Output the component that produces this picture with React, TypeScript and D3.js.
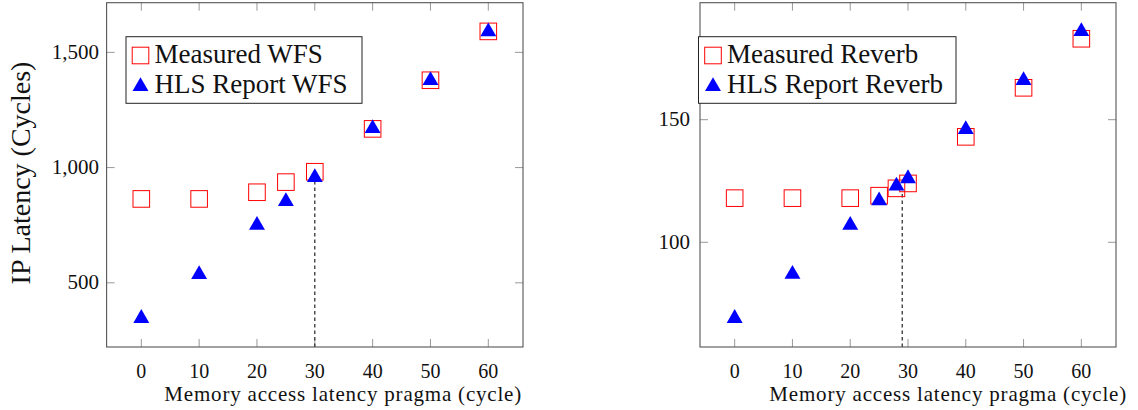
import React from 'react';
import * as d3 from 'd3';

// WFS panel
const wfsPragma = [0, 10, 20, 25, 30, 40, 50, 60];
const wfsMeasured = [864, 864, 893, 937, 982, 1168, 1379, 1591];
const wfsHls = [346, 536, 750, 853, 957, 1170, 1378, 1590];
const wfsTicks = [500, 1000, 1500];
const wfsLegend = ['Measured WFS', 'HLS Report WFS'];
const wfsGuide = { x: 30, y: 957 };

// Reverb panel
const reverbPragma = [0, 10, 20, 25, 28, 30, 40, 50, 60];
const reverbMeasured = [118, 118, 118, 119, 122, 124, 143, 163, 183];
const reverbHls = [69, 87, 107, 117, 123, 126, 146, 166, 186];
const reverbTicks = [100, 150];
const reverbLegend = ['Measured Reverb', 'HLS Report Reverb'];
const reverbGuide = { x: 29, y: 121 };

const xTicks = [0, 10, 20, 30, 40, 50, 60];
const xLabel = 'Memory access latency pragma (cycle)';
const yLabel = 'IP Latency (Cycles)';

const FONT = '"Liberation Serif", "Times New Roman", serif';
const RED = '#ff0000';
const BLUE = '#0000ff';

// pgfplots-style 10% enlargement
const enlarge = (vals: number[]): [number, number] => {
  const [lo, hi] = d3.extent(vals) as [number, number];
  const pad = (hi - lo) * 0.1;
  return [lo - pad, hi + pad];
};

const triangle = d3.symbol().type(d3.symbolTriangle).size(110)()!;
const SQ = 16.6;

type PanelProps = {
  left: number;
  right: number;
  xs: number[];
  measured: number[];
  hls: number[];
  yTicks: number[];
  fmt: (v: number) => string;
  legend: string[];
  legendLeft: number;
  legendRight: number;
  guide: { x: number; y: number };
  xLabelEnd: number;
  tickGap: number;
};

const Panel = (p: PanelProps) => {
  const top = 2.7;
  const bottom = 347;
  const x = d3.scaleLinear().domain(enlarge(p.xs)).range([p.left, p.right]);
  const y = d3
    .scaleLinear()
    .domain(enlarge([...p.measured, ...p.hls]))
    .range([bottom, top]);
  const tickLen = 8;
  const lgTop = 36.7;
  const lgBottom = 103.3;
  const lgX = p.legendLeft + 14.5;
  return (
    <g>
      {/* ticks */}
      {xTicks.map((t) => (
        <g key={'x' + t}>
          <line x1={x(t)} x2={x(t)} y1={bottom} y2={bottom - tickLen} stroke="#999" />
          <line x1={x(t)} x2={x(t)} y1={top} y2={top + tickLen} stroke="#999" />
          <text x={x(t)} y={378} textAnchor="middle" fontSize={20} fontFamily={FONT} fill="#111">
            {t}
          </text>
        </g>
      ))}
      {p.yTicks.map((t) => (
        <g key={'y' + t}>
          <line x1={p.left} x2={p.left + tickLen} y1={y(t)} y2={y(t)} stroke="#999" />
          <line x1={p.right} x2={p.right - tickLen} y1={y(t)} y2={y(t)} stroke="#999" />
          <text x={p.left - p.tickGap} y={y(t) + 6.5} textAnchor="end" fontSize={21} fontFamily={FONT} fill="#111">
            {p.fmt(t)}
          </text>
        </g>
      ))}
      {/* dashed guide */}
      <line
        x1={x(p.guide.x)}
        x2={x(p.guide.x)}
        y1={bottom}
        y2={y(p.guide.y)}
        stroke="#222"
        strokeWidth={1.2}
        strokeDasharray="3.5 3"
      />
      {/* measured squares */}
      {p.xs.map((v, i) => (
        <rect
          key={'m' + i}
          x={x(v) - SQ / 2}
          y={y(p.measured[i]) - SQ / 2}
          width={SQ}
          height={SQ}
          fill="none"
          stroke={RED}
          strokeWidth={1}
        />
      ))}
      {/* HLS triangles */}
      {p.xs.map((v, i) => (
        <path key={'h' + i} d={triangle} transform={`translate(${x(v)},${y(p.hls[i])})`} fill={BLUE} />
      ))}
      {/* frame */}
      <rect x={p.left} y={top} width={p.right - p.left} height={bottom - top} fill="none" stroke="#555" strokeWidth={1.1} />
      {/* legend */}
      <rect
        x={p.legendLeft}
        y={lgTop}
        width={p.legendRight - p.legendLeft}
        height={lgBottom - lgTop}
        fill="#fff"
        stroke="#222"
        strokeWidth={1}
      />
      <rect x={lgX - SQ / 2} y={55.5 - SQ / 2} width={SQ} height={SQ} fill="none" stroke={RED} />
      <path d={triangle} transform={`translate(${lgX},86.5)`} fill={BLUE} />
      {p.legend.map((s, i) => (
        <text key={s} x={p.legendLeft + 28.5} y={63.3 + i * 29.2} fontSize={27} fontFamily={FONT} fill="#111">
          {s}
        </text>
      ))}
      <text
        x={p.xLabelEnd}
        y={401}
        textAnchor="end"
        fontSize={21}
        letterSpacing={0.8}
        fontFamily={FONT}
        fill="#111"
      >
        {xLabel}
      </text>
    </g>
  );
};

export default function App() {
  return (
    <svg
      width={1138}
      height={410}
      style={{ position: 'absolute', left: 0, top: 0, background: '#fff' }}
    >
      <Panel
        left={106.6}
        right={523}
        xs={wfsPragma}
        measured={wfsMeasured}
        hls={wfsHls}
        yTicks={wfsTicks}
        fmt={d3.format(',')}
        legend={wfsLegend}
        legendLeft={126}
        legendRight={362}
        guide={wfsGuide}
        xLabelEnd={522}
        tickGap={7.5}
      />
      <Panel
        left={700}
        right={1116}
        xs={reverbPragma}
        measured={reverbMeasured}
        hls={reverbHls}
        yTicks={reverbTicks}
        fmt={d3.format('d')}
        legend={reverbLegend}
        legendLeft={698.5}
        legendRight={956}
        guide={reverbGuide}
        xLabelEnd={1127}
        tickGap={10}
      />
      <text
        transform="translate(30,173) rotate(-90)"
        textAnchor="middle"
        fontSize={28}
        fontFamily={FONT}
        fill="#111"
      >
        {yLabel}
      </text>
    </svg>
  );
}
